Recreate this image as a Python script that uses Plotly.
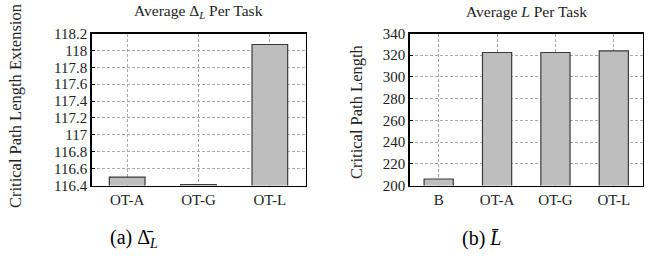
import plotly.graph_objects as go

# Data
cats_a = ["OT-A", "OT-G", "OT-L"]
vals_a = [116.50, 116.41, 118.07]
cats_b = ["B", "OT-A", "OT-G", "OT-L"]
vals_b = [206, 322.5, 322.5, 324]
yticks_a = [116.4, 116.6, 116.8, 117, 117.2, 117.4, 117.6, 117.8, 118, 118.2]
yticks_b = [200, 220, 240, 260, 280, 300, 320, 340]

FONT = "Liberation Serif"
BAR = "#bebebe"
EDGE = "#3a3a3a"

fig = go.Figure()
fig.add_trace(go.Bar(x=cats_a, y=vals_a, width=0.5,
                     marker=dict(color=BAR, line=dict(color=EDGE, width=1.2)),
                     xaxis="x", yaxis="y", showlegend=False, hoverinfo="skip"))
fig.add_trace(go.Bar(x=cats_b, y=vals_b, width=0.5,
                     marker=dict(color=BAR, line=dict(color=EDGE, width=1.2)),
                     xaxis="x2", yaxis="y2", showlegend=False, hoverinfo="skip"))

W, H = 652, 263
def xd(a, b):
    return [a / W, b / W]
def yd(top, bottom):
    return [1 - bottom / H, 1 - top / H]

common_x = dict(showline=True, mirror=True, linecolor="black", linewidth=1.2,
                showgrid=True, gridcolor="#a8a8a8", griddash="3px,2px", gridwidth=1,
                ticks="", tickfont=dict(family=FONT, size=15, color="#222"),
                zeroline=False, fixedrange=True, automargin=False)
common_y = dict(showline=True, mirror=True, linecolor="black", linewidth=1.2,
                showgrid=True, gridcolor="#a8a8a8", griddash="3px,2px", gridwidth=1,
                ticks="inside", ticklen=3, tickcolor="black",
                tickfont=dict(family=FONT, size=15, color="#222"),
                zeroline=False, fixedrange=True, automargin=False)

fig.update_layout(
    width=W, height=H, margin=dict(l=0, r=0, t=0, b=0, autoexpand=False),
    paper_bgcolor="white", plot_bgcolor="white",
    font=dict(family=FONT, color="#222"),
    xaxis=dict(domain=xd(91.5, 305.5), anchor="y", **common_x),
    yaxis=dict(domain=yd(33.5, 185.5), anchor="x", range=[116.4, 118.2],
               tickvals=yticks_a, ticktext=[f"{v:g}" for v in yticks_a], **common_y),
    xaxis2=dict(domain=xd(409.5, 643), anchor="y2", **common_x),
    yaxis2=dict(domain=yd(33.5, 185.5), anchor="x2", range=[200, 340],
                tickvals=yticks_b, ticktext=[str(v) for v in yticks_b], **common_y),
)

def note(text, x, y, size, angle=0, color="#222"):
    return dict(text=text, x=x / W, y=1 - y / H, xref="paper", yref="paper",
                xanchor="center", yanchor="middle", showarrow=False,
                textangle=angle, font=dict(family=FONT, size=size, color=color))

ann = [
    note("Average Δ<sub><i>L</i></sub> Per Task", 198.5, 11, 15.5),
    note("Average <i>L</i> Per Task", 526, 11, 15.5),
    note("Critical Path Length Extension", 15, 106, 16.5, -90),
    note("Critical Path Length", 357, 111, 16.5, -90),
    note("(a) Δ̄<sub><i>L</i></sub>", 134, 238, 20, 0, "black"),
    note("(b) <i>L̄</i>", 482, 238, 20, 0, "black"),
]
fig.update_layout(annotations=ann)

fig.write_html("out.html",
               config={"displayModeBar": False, "staticPlot": True},
               post_script="document.body.style.margin='0';document.body.style.overflow='hidden';")
